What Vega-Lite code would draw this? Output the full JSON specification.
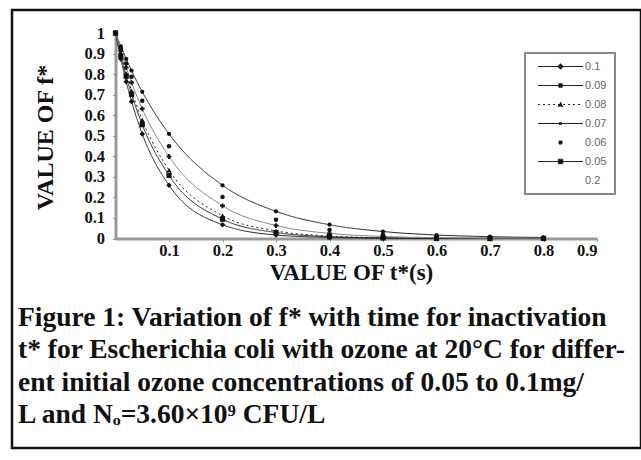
{
  "$schema": "https://vega.github.io/schema/vega-lite/v6.json",
  "width": 629,
  "height": 438,
  "autosize": "none",
  "padding": {"left": 12, "top": 10, "right": 0, "bottom": 12},
  "background": "white",
  "config": {
    "view": {"stroke": "#111", "strokeWidth": 2.5},
    "font": "Liberation Serif",
    "axis": {"grid": false}
  },
  "title": {
    "text": [
      "Figure 1: Variation of  f* with time for inactivation",
      "t* for Escherichia coli with ozone at 20°C for differ-",
      "ent initial ozone concentrations of 0.05 to 0.1mg/",
      "L and Nₒ=3.60×10⁹ CFU/L"
    ],
    "orient": "bottom",
    "anchor": "start",
    "frame": "group",
    "offset": -122,
    "dx": 6,
    "font": "Liberation Serif",
    "fontSize": 27.5,
    "fontWeight": "bold",
    "color": "#111",
    "lineHeight": 32.3,
    "baseline": "alphabetic"
  },
  "data": {
    "values": [
      {"c": "0.05", "t": 0, "f": 1}, {"c": "0.05", "t": 0.01, "f": 0.935}, {"c": "0.05", "t": 0.02, "f": 0.874}, {"c": "0.05", "t": 0.03, "f": 0.817}, {"c": "0.05", "t": 0.05, "f": 0.714}, {"c": "0.05", "t": 0.1, "f": 0.509}, {"c": "0.05", "t": 0.2, "f": 0.259}, {"c": "0.05", "t": 0.3, "f": 0.132}, {"c": "0.05", "t": 0.4, "f": 0.067}, {"c": "0.05", "t": 0.5, "f": 0.034}, {"c": "0.05", "t": 0.6, "f": 0.017}, {"c": "0.05", "t": 0.7, "f": 0.009}, {"c": "0.05", "t": 0.8, "f": 0.005},
      {"c": "0.06", "t": 0, "f": 1}, {"c": "0.06", "t": 0.01, "f": 0.923}, {"c": "0.06", "t": 0.02, "f": 0.852}, {"c": "0.06", "t": 0.03, "f": 0.787}, {"c": "0.06", "t": 0.05, "f": 0.67}, {"c": "0.06", "t": 0.1, "f": 0.449}, {"c": "0.06", "t": 0.2, "f": 0.202}, {"c": "0.06", "t": 0.3, "f": 0.091}, {"c": "0.06", "t": 0.4, "f": 0.041}, {"c": "0.06", "t": 0.5, "f": 0.018}, {"c": "0.06", "t": 0.6, "f": 0.008}, {"c": "0.06", "t": 0.7, "f": 0.004}, {"c": "0.06", "t": 0.8, "f": 0.002},
      {"c": "0.07", "t": 0, "f": 1}, {"c": "0.07", "t": 0.01, "f": 0.912}, {"c": "0.07", "t": 0.02, "f": 0.832}, {"c": "0.07", "t": 0.03, "f": 0.759}, {"c": "0.07", "t": 0.05, "f": 0.631}, {"c": "0.07", "t": 0.1, "f": 0.399}, {"c": "0.07", "t": 0.2, "f": 0.159}, {"c": "0.07", "t": 0.3, "f": 0.063}, {"c": "0.07", "t": 0.4, "f": 0.025}, {"c": "0.07", "t": 0.5, "f": 0.01}, {"c": "0.07", "t": 0.6, "f": 0.004}, {"c": "0.07", "t": 0.7, "f": 0.002}, {"c": "0.07", "t": 0.8, "f": 0.001},
      {"c": "0.08", "t": 0, "f": 1}, {"c": "0.08", "t": 0.01, "f": 0.896}, {"c": "0.08", "t": 0.02, "f": 0.803}, {"c": "0.08", "t": 0.03, "f": 0.719}, {"c": "0.08", "t": 0.05, "f": 0.577}, {"c": "0.08", "t": 0.1, "f": 0.333}, {"c": "0.08", "t": 0.2, "f": 0.111}, {"c": "0.08", "t": 0.3, "f": 0.037}, {"c": "0.08", "t": 0.4, "f": 0.012}, {"c": "0.08", "t": 0.5, "f": 0.004}, {"c": "0.08", "t": 0.6, "f": 0.001}, {"c": "0.08", "t": 0.7, "f": 0.001}, {"c": "0.08", "t": 0.8, "f": 0},
      {"c": "0.09", "t": 0, "f": 1}, {"c": "0.09", "t": 0.01, "f": 0.889}, {"c": "0.09", "t": 0.02, "f": 0.79}, {"c": "0.09", "t": 0.03, "f": 0.702}, {"c": "0.09", "t": 0.05, "f": 0.554}, {"c": "0.09", "t": 0.1, "f": 0.307}, {"c": "0.09", "t": 0.2, "f": 0.094}, {"c": "0.09", "t": 0.3, "f": 0.029}, {"c": "0.09", "t": 0.4, "f": 0.009}, {"c": "0.09", "t": 0.5, "f": 0.003}, {"c": "0.09", "t": 0.6, "f": 0.001}, {"c": "0.09", "t": 0.7, "f": 0}, {"c": "0.09", "t": 0.8, "f": 0},
      {"c": "0.1", "t": 0, "f": 1}, {"c": "0.1", "t": 0.01, "f": 0.874}, {"c": "0.1", "t": 0.02, "f": 0.763}, {"c": "0.1", "t": 0.03, "f": 0.667}, {"c": "0.1", "t": 0.05, "f": 0.509}, {"c": "0.1", "t": 0.1, "f": 0.259}, {"c": "0.1", "t": 0.2, "f": 0.067}, {"c": "0.1", "t": 0.3, "f": 0.017}, {"c": "0.1", "t": 0.4, "f": 0.005}, {"c": "0.1", "t": 0.5, "f": 0.001}, {"c": "0.1", "t": 0.6, "f": 0}, {"c": "0.1", "t": 0.7, "f": 0}, {"c": "0.1", "t": 0.8, "f": 0}
    ]
  },
  "layer": [
    {
      "transform": [{"filter": "datum.c !== '0.06' && datum.c !== '0.07'"}],
      "mark": {"type": "line", "interpolate": "monotone", "strokeWidth": 1, "color": "#222"},
      "encoding": {
        "x": {
          "field": "t", "type": "quantitative",
          "scale": {"domain": [0, 0.9], "range": [103.5, 585], "nice": false, "zero": false},
          "axis": {
            "orient": "bottom", "offset": -209.5,
            "values": [0.1, 0.2, 0.3, 0.4, 0.5, 0.6, 0.7, 0.8, 0.9], "format": "~g",
            "title": "VALUE OF t*(s)", "titleFont": "Liberation Serif", "titleFontSize": 23, "titleFontWeight": "bold", "titleColor": "#111",
            "titleX": 339, "titleY": 41, "titleAlign": "center", "titleBaseline": "alphabetic", "titleAngle": 0,
            "labelFont": "Liberation Serif", "labelFontSize": 16.5, "labelFontWeight": "bold", "labelColor": "#111",
            "labelPadding": 1, "tickSize": 3, "tickColor": "#999", "domainColor": "#999", "domainWidth": 3, "labelOverlap": false
          }
        },
        "y": {
          "field": "f", "type": "quantitative",
          "scale": {"domain": [0, 1], "range": [228.5, 23], "nice": false, "zero": false},
          "axis": {
            "orient": "left", "offset": -103.5,
            "values": [0, 0.1, 0.2, 0.3, 0.4, 0.5, 0.6, 0.7, 0.8, 0.9, 1], "format": "~g",
            "title": "VALUE OF f*", "titleFont": "Liberation Serif", "titleFontSize": 24, "titleFontWeight": "bold", "titleColor": "#111",
            "titleAngle": -90, "titleX": -70, "titleY": 127, "titleAlign": "center", "titleBaseline": "middle",
            "labelFont": "Liberation Serif", "labelFontSize": 16.5, "labelFontWeight": "bold", "labelColor": "#111",
            "labelPadding": 8, "tickSize": 3, "tickColor": "#999", "domainColor": "#999", "domainWidth": 3, "labelOverlap": false
          }
        },
        "strokeDash": {
          "field": "c", "type": "nominal",
          "scale": {"domain": ["0.1", "0.09", "0.08", "0.07", "0.06", "0.05", "0.2"], "range": [[1, 0], [1, 0], [2, 3], [1, 0], [1, 0], [1, 0], [1, 0]]},
          "legend": {
            "title": null, "orient": "none", "legendX": 513, "legendY": 43,
            "padding": 8, "strokeColor": "#888",
            "labelFont": "Liberation Sans", "labelFontSize": 11, "labelColor": "#666",
            "symbolSize": 100, "symbolOffset": 22, "labelOffset": 19, "rowPadding": 7,
            "symbolStrokeWidth": 1, "symbolStrokeColor": "#222", "symbolFillColor": "#111",
            "encode": {
              "legend": {"update": {"strokeWidth": {"value": 2}}},
              "symbols": {"update": {
                "shape": {"signal": "datum.value === '0.1' ? 'M-4.5,0H4.5M0,-0.55L0.55,0L0,0.55L-0.55,0Z' : datum.value === '0.09' ? 'M-4.5,0H4.5M-0.35,-0.35H0.35V0.35H-0.35Z' : datum.value === '0.08' ? 'M-4.5,0H4.5M-0.5,0.4L0,-0.5L0.5,0.4Z' : datum.value === '0.07' ? 'M-4.5,0H4.5M-0.2,-0.2H0.2V0.2H-0.2Z' : datum.value === '0.06' ? 'M-0.3,-0.3H0.3V0.3H-0.3Z' : datum.value === '0.05' ? 'M-4.5,0H4.5M-0.45,-0.45H0.45V0.45H-0.45Z' : 'M0,0'"},
                "fill": {"value": "#111"},
                "stroke": {"value": "#222"}
              }}
            }
          }
        }
      }
    },
    {
      "transform": [{"filter": "datum.c === '0.07'"}],
      "mark": {"type": "line", "interpolate": "monotone", "strokeWidth": 1, "color": "#888"},
      "encoding": {
        "x": {"field": "t", "type": "quantitative"},
        "y": {"field": "f", "type": "quantitative"}
      }
    },
    {
      "mark": {"type": "point", "filled": true, "color": "#111", "opacity": 1},
      "encoding": {
        "x": {"field": "t", "type": "quantitative"},
        "y": {"field": "f", "type": "quantitative"},
        "shape": {
          "field": "c", "type": "nominal",
          "scale": {"domain": ["0.1", "0.09", "0.08", "0.07", "0.06", "0.05"], "range": ["diamond", "square", "triangle-up", "cross", "circle", "circle"]},
          "legend": null
        },
        "size": {
          "field": "c", "type": "nominal",
          "scale": {"domain": ["0.1", "0.09", "0.08", "0.07", "0.06", "0.05"], "range": [30, 18, 30, 8, 8, 28]},
          "legend": null
        }
      }
    }
  ]
}
